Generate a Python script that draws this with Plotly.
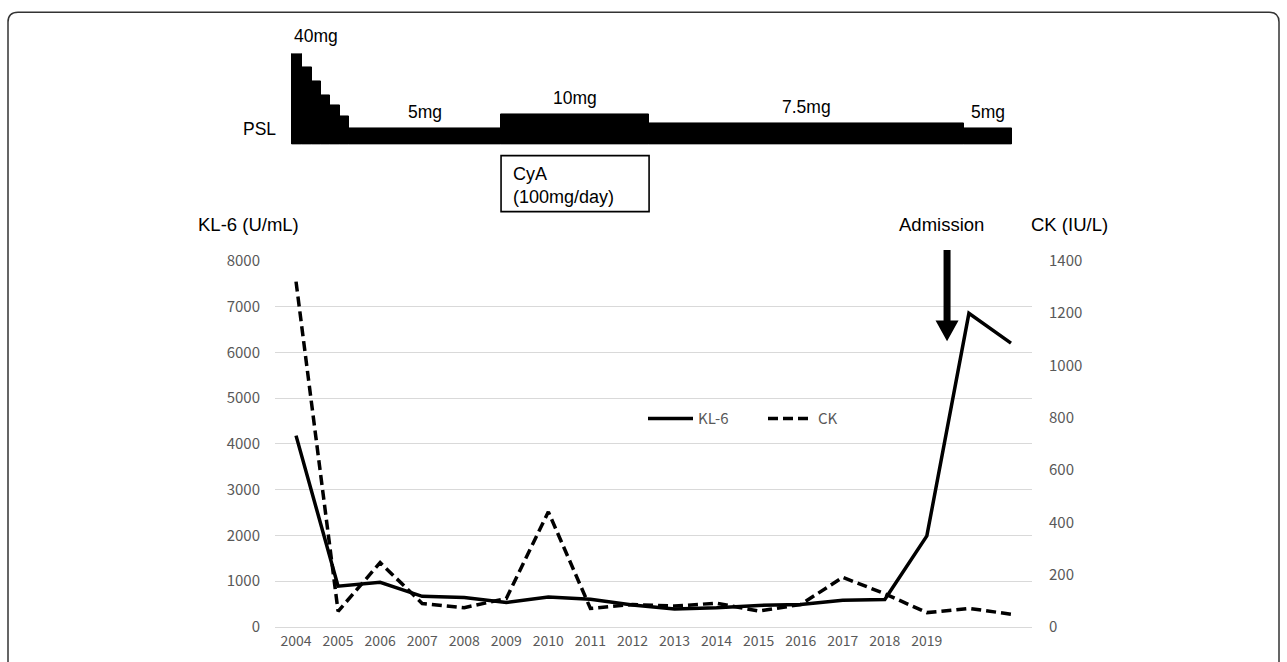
import plotly.graph_objects as go

# ---------------- data ----------------
years = [str(y) for y in range(2004, 2020)]          # labelled categories
n_points = 18                                          # 2004 .. 2021 (last two unlabelled)
kl6 = [4180, 890, 975, 670, 643, 536, 657, 607, 479, 393, 420, 471, 493, 586, 600, 1990, 6850, 6200]
ck = [1320, 60, 246, 90, 74, 109, 440, 71, 86, 80, 91, 61, 86, 190, 127, 55, 71, 49]

# PSL schedule (time in years, schematic bar level, label)
psl_start = [2003.905, 2004.143, 2004.381, 2004.595, 2004.809, 2005.047, 2005.26, 2008.875, 2012.395, 2019.886]
psl_end = [2004.143, 2004.381, 2004.595, 2004.809, 2005.047, 2005.26, 2008.875, 2012.395, 2019.886, 2021.027]
psl_level = [93, 79, 65, 50, 40, 29, 17, 31, 22, 17]
psl_label = ["40mg", "", "", "", "", "", "5mg", "10mg", "7.5mg", "5mg"]
cya_period = (2008.875, 2012.395)
admission_year = 2019.48

# ---------------- geometry helpers (screen pixels) ----------------
SW, SH = 1287, 662
L, R, T, B = 275, 1032, 20, 634          # plot area in screen px
W, H = R - L, B - T


def px(xp):
    return (xp - L) / W


def py(yp):
    return (B - yp) / H


MAIN_TOP = py(261)
TXT = "Liberation Sans, Arial, sans-serif"
TICKF = "Noto Sans CJK JP, sans-serif"
GRAY = "#595959"

fig = go.Figure()

x_idx = list(range(n_points))
fig.add_trace(go.Scatter(x=x_idx, y=kl6, name="KL-6", mode="lines",
                         line=dict(color="black", width=3.5), yaxis="y"))
fig.add_trace(go.Scatter(x=x_idx, y=ck, name="CK", mode="lines",
                         line=dict(color="black", width=3.5, dash="10px,5px"), yaxis="y2"))

# PSL bars
bx = [((s + e) / 2) - 2004 for s, e in zip(psl_start, psl_end)]
bw = [e - s for s, e in zip(psl_start, psl_end)]
fig.add_trace(go.Bar(x=bx, y=psl_level, width=bw, base=0, yaxis="y3",
                     marker=dict(color="black", line=dict(color="black", width=1)),
                     showlegend=False, hoverinfo="skip"))

annotations = []
for i, lab in enumerate(psl_label):
    if not lab:
        continue
    if i == 0:
        annotations.append(dict(x=psl_start[i] - 2004, y=psl_level[i], xref="x", yref="y3",
                                text=lab, showarrow=False, xanchor="left", yanchor="bottom",
                                yshift=5, font=dict(family=TXT, size=17.5, color="black")))
    else:
        annotations.append(dict(x=bx[i], y=psl_level[i], xref="x", yref="y3",
                                text=lab, showarrow=False, xanchor="center", yanchor="bottom",
                                yshift=4, font=dict(family=TXT, size=17.5, color="black")))

annotations += [
    dict(x=px(278), y=py(127), xref="paper", yref="paper", text="PSL", showarrow=False,
         xanchor="right", yanchor="middle", font=dict(family=TXT, size=17.5, color="black")),
    dict(x=cya_period[0] - 2004, y=py(184), xref="x", yref="paper",
         text="CyA<br>(100mg/day)", showarrow=False, xanchor="left", yanchor="middle",
         align="left", xshift=10, font=dict(family=TXT, size=18, color="black")),
    dict(x=px(196), y=py(224), xref="paper", yref="paper", text="KL-6 (U/mL)", showarrow=False,
         xanchor="left", yanchor="middle", font=dict(family=TXT, size=18.5, color="black")),
    dict(x=px(1029), y=py(224), xref="paper", yref="paper", text="CK (IU/L)", showarrow=False,
         xanchor="left", yanchor="middle", font=dict(family=TXT, size=18.5, color="black")),
    dict(x=px(941), y=py(224), xref="paper", yref="paper", text="Admission",
         showarrow=False, xanchor="center", yanchor="middle",
         font=dict(family=TXT, size=18.5, color="black")),
]

# arrow (shaft + head) in paper coords
ax_c = px(L + (admission_year - 2004 + 0.5) * W / n_points)
sw, hw = 3.5 / W, 11.5 / W
arrow_path = (f"M {ax_c - sw},{py(250)} L {ax_c + sw},{py(250)} L {ax_c + sw},{py(322)} "
              f"L {ax_c + hw},{py(322)} L {ax_c},{py(343)} L {ax_c - hw},{py(322)} "
              f"L {ax_c - sw},{py(322)} Z")

# rounded outer border
r = 10
bx0, by0, bx1, by1 = 8, 8, 1279, 700
border_path = (f"M {px(bx0)},{py(by1)} L {px(bx0)},{py(by0 + r)} "
               f"Q {px(bx0)},{py(by0)} {px(bx0 + r)},{py(by0)} "
               f"L {px(bx1 - r)},{py(by0)} Q {px(bx1)},{py(by0)} {px(bx1)},{py(by0 + r)} "
               f"L {px(bx1)},{py(by1)}")

shapes = [
    dict(type="path", xref="paper", yref="paper", path=arrow_path,
         fillcolor="black", line=dict(color="black", width=0)),
    dict(type="rect", xref="x", yref="paper", x0=cya_period[0] - 2004, x1=cya_period[1] - 2004,
         y0=py(211), y1=py(154), line=dict(color="black", width=1.6), fillcolor="rgba(0,0,0,0)"),
    dict(type="path", xref="paper", yref="paper", path=border_path,
         line=dict(color="#333333", width=1.5)),
]

fig.update_layout(
    width=SW, height=SH,
    margin=dict(l=L, r=SW - R, t=T, b=SH - B, pad=0),
    paper_bgcolor="white", plot_bgcolor="white",
    showlegend=True,
    legend=dict(orientation="h", x=px(643), y=py(422), xanchor="left", yanchor="middle",
                font=dict(family=TICKF, size=15, color=GRAY), bgcolor="rgba(0,0,0,0)",
                itemwidth=45, entrywidth=60, entrywidthmode="pixels", traceorder="normal"),
    xaxis=dict(range=[-0.5, n_points - 0.5], tickmode="array",
               tickvals=list(range(len(years))), ticktext=years,
               showgrid=False, zeroline=False, showline=False, ticks="",
               tickfont=dict(family=TICKF, size=14, color=GRAY), ticklabelstandoff=4,
               fixedrange=True),
    yaxis=dict(domain=[0, MAIN_TOP], range=[0, 8000], dtick=1000, showgrid=True,
               gridcolor="#d9d9d9", gridwidth=1, zeroline=True, zerolinecolor="#d9d9d9",
               zerolinewidth=1, showline=False, ticks="",
               tickfont=dict(family=TICKF, size=15, color=GRAY), ticklabelstandoff=14),
    yaxis2=dict(domain=[0, MAIN_TOP], range=[0, 1400], dtick=200, overlaying="y", side="right",
                anchor="x", showgrid=False, zeroline=False, showline=False, ticks="",
                tickfont=dict(family=TICKF, size=15, color=GRAY), ticklabelstandoff=16),
    yaxis3=dict(domain=[py(143), py(50)], range=[0, 93], anchor="x", visible=False),
    bargap=0,
    annotations=annotations,
    shapes=shapes,
)

# place the figure at the page origin (remove default body margin)
page_js = ("document.documentElement.style.margin='0';document.body.style.margin='0';"
           "document.documentElement.style.overflow='hidden';document.body.style.overflow='hidden';"
           "var g=document.getElementById('{plot_id}');g.style.position='absolute';"
           "g.style.left='0px';g.style.top='0px';")

fig.write_html("out.html", post_script=page_js, config={"displayModeBar": False})
